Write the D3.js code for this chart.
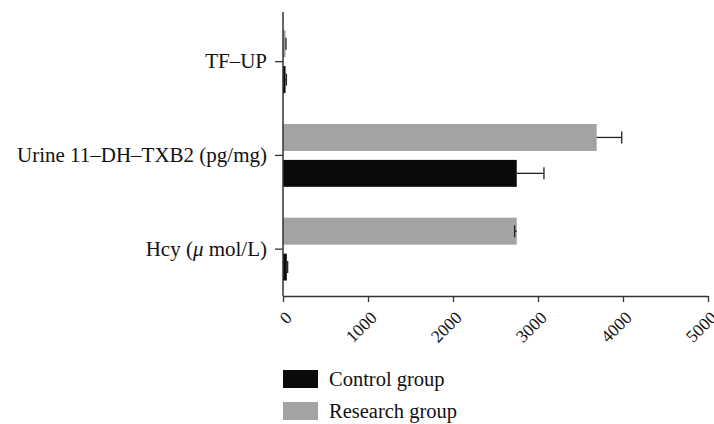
<!DOCTYPE html>
<html>
<head>
<meta charset="utf-8">
<script src="https://cdn.jsdelivr.net/npm/d3@7"></script>
<style>
  body { margin: 0; background: #fff; }
  text { font-family: "Liberation Serif", "DejaVu Serif", serif; fill: #111; }
</style>
</head>
<body>
<script>
// categories, top to bottom
var categories = ["TF\u2013UP", "Urine 11\u2013DH\u2013TXB2 (pg/mg)", "Hcy"];
var seriesNames = ["Research group", "Control group"];
var researchValues = [30, 3690, 2750];
var researchErrors = [5, 295, -25];
var controlValues = [30, 2750, 45];
var controlErrors = [10, 320, 10];
var xTicks = [0, 1000, 2000, 3000, 4000, 5000];

var width = 714, height = 424;
var colors = { "Research group": "#a3a2a4", "Control group": "#0a0a08" };

var x = d3.scaleLinear().domain([0, 5000]).range([283, 708]);
var y = d3.scaleBand().domain(categories).range([14.8, 296]).paddingInner(0).paddingOuter(0);
var sub = d3.scaleBand().domain(seriesNames).range([0, y.bandwidth()]).paddingInner(0.25).paddingOuter(0.43);

var svg = d3.select("body").append("svg")
    .attr("width", width)
    .attr("height", height);

var rows = [];
categories.forEach(function (c, i) {
    rows.push({ cat: c, s: "Research group", v: researchValues[i], e: researchErrors[i] });
    rows.push({ cat: c, s: "Control group", v: controlValues[i], e: controlErrors[i] });
});

// bars
svg.selectAll("rect.bar").data(rows).enter()
    .append("rect")
    .attr("class", "bar")
    .attr("x", x(0))
    .attr("y", function (d) { return y(d.cat) + sub(d.s); })
    .attr("width", function (d) { return x(d.v) - x(0); })
    .attr("height", sub.bandwidth())
    .attr("fill", function (d) { return colors[d.s]; });

// error bars
var err = svg.selectAll("g.err").data(rows).enter().append("g").attr("class", "err");
err.append("line")
    .attr("x1", function (d) { return x(d.v); })
    .attr("x2", function (d) { return x(d.v + d.e); })
    .attr("y1", function (d) { return y(d.cat) + sub(d.s) + sub.bandwidth() / 2; })
    .attr("y2", function (d) { return y(d.cat) + sub(d.s) + sub.bandwidth() / 2; })
    .attr("stroke", "#222").attr("stroke-width", 1.3);
err.append("line")
    .attr("x1", function (d) { return x(d.v + d.e); })
    .attr("x2", function (d) { return x(d.v + d.e); })
    .attr("y1", function (d) { return y(d.cat) + sub(d.s) + sub.bandwidth() / 2 - 6; })
    .attr("y2", function (d) { return y(d.cat) + sub(d.s) + sub.bandwidth() / 2 + 6; })
    .attr("stroke", "#222").attr("stroke-width", 1.3);

// x axis
var xAxis = svg.append("g")
    .attr("transform", "translate(0,296)")
    .call(d3.axisBottom(x).tickValues(xTicks).tickFormat(d3.format("d"))
        .tickSize(6).tickPadding(4).tickSizeOuter(0));
xAxis.select(".domain").attr("stroke", "#333").attr("stroke-width", 1.5);
xAxis.selectAll(".tick line").attr("stroke", "#333").attr("stroke-width", 1.3);
xAxis.selectAll(".tick text")
    .attr("font-size", 17.5)
    .attr("text-anchor", "end")
    .attr("x", 0).attr("y", 0)
    .attr("dx", 0)
    .attr("dy", "0.35em")
    .attr("transform", "translate(5,18.5) rotate(-45)");

// y axis
var yAxis = svg.append("g")
    .attr("transform", "translate(283,0)")
    .call(d3.axisLeft(y).tickSize(8).tickPadding(8).tickSizeOuter(0));
yAxis.select(".domain").attr("stroke", "#333").attr("stroke-width", 1.5)
    .attr("d", "M0,12V296");
yAxis.selectAll(".tick line").attr("stroke", "#333").attr("stroke-width", 1.3);
yAxis.selectAll(".tick text").attr("font-size", 21).text(null);
yAxis.selectAll(".tick text").each(function (d) {
    var t = d3.select(this);
    if (d === "Hcy") {
        t.append("tspan").text("Hcy (");
        t.append("tspan").attr("font-style", "italic").text("\u03bc");
        t.append("tspan").text(" mol/L)");
    } else {
        t.text(d);
    }
});

// legend
var legendOrder = ["Control group", "Research group"];
var legend = svg.selectAll("g.legend").data(legendOrder).enter()
    .append("g").attr("class", "legend")
    .attr("transform", function (d, i) { return "translate(283," + (370 + i * 32) + ")"; });
legend.append("rect").attr("width", 35).attr("height", 18)
    .attr("fill", function (d) { return colors[d]; });
legend.append("text").attr("x", 46).attr("y", 9).attr("dy", "0.35em")
    .attr("font-size", 20.5).text(function (d) { return d; });
</script>
</body>
</html>
